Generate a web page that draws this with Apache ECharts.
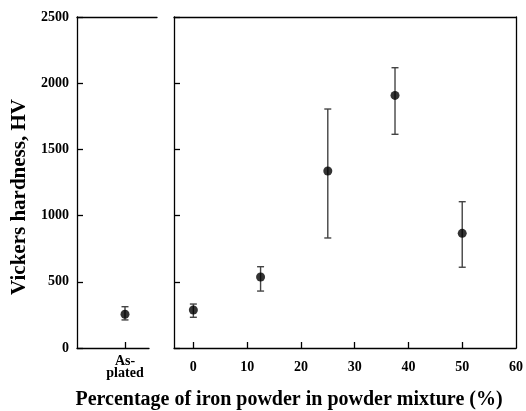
<!DOCTYPE html>
<html>
<head>
<meta charset="utf-8">
<script src="https://cdn.jsdelivr.net/npm/echarts@6/dist/echarts.min.js"></script>
<style>
html,body{margin:0;padding:0;background:#fff;}
#c{width:526px;height:411px;}
</style>
</head>
<body>
<div id="c"></div>
<script>
// Data
var asPlatedLabel = 'As-\nplated';
var asPlatedHV = 255;
var asPlatedLow = 212;
var asPlatedHigh = 312;

var ironPct = [0, 12.5, 25, 37.5, 50];
var hardness = [287, 536, 1337, 1908, 866];
var hardnessLow = [232, 430, 831, 1614, 610];
var hardnessHigh = [332, 614, 1805, 2117, 1105];

var xTicks = [0, 10, 20, 30, 40, 50, 60];
var yTicks = [0, 500, 1000, 1500, 2000, 2500];

var FONT = '"Liberation Serif", "Times New Roman", serif';
var AS_POS = 2; // layout position of the as-plated column

function errRender(params, api) {
  var x = api.value(0);
  var lo = api.coord([x, api.value(1)]);
  var hi = api.coord([x, api.value(2)]);
  var cw = 3.5;
  var st = {stroke: '#444', lineWidth: 1.4};
  return {
    type: 'group',
    children: [
      {type: 'line', shape: {x1: lo[0], y1: lo[1], x2: hi[0], y2: hi[1]}, style: st},
      {type: 'line', shape: {x1: lo[0]-cw, y1: lo[1], x2: lo[0]+cw, y2: lo[1]}, style: st},
      {type: 'line', shape: {x1: hi[0]-cw, y1: hi[1], x2: hi[0]+cw, y2: hi[1]}, style: st}
    ]
  };
}

var axisLine = {show: true, onZero: false, lineStyle: {color: '#000', width: 1.3}};
var labelStyle = {color: '#000', fontFamily: FONT, fontWeight: 'bold', fontSize: 14};

var chart = echarts.init(document.getElementById('c'), null, {renderer: 'canvas'});
chart.setOption({
  animation: false,
  backgroundColor: '#fff',
  grid: [
    {left: 77, top: 17, width: 72, height: 331},
    {left: 174, top: 17, right: 6, height: 331},
    {left: 77, top: 17, width: 80, height: 331}
  ],
  xAxis: [
    {
      gridIndex: 0, type: 'value', min: 0, max: 3, position: 'bottom',
      axisLine: axisLine,
      axisTick: {show: true, inside: true, length: 6, customValues: [AS_POS], lineStyle: {color: '#000', width: 1.3}},
      axisLabel: Object.assign({show: true, margin: 7, lineHeight: 12, customValues: [AS_POS], formatter: function(){ return asPlatedLabel; }}, labelStyle),
      splitLine: {show: false}
    },
    {
      gridIndex: 1, type: 'value', min: -3.6, max: 60, position: 'bottom',
      axisLine: axisLine,
      axisTick: {show: true, inside: true, length: 6, customValues: xTicks.slice(0, 6), lineStyle: {color: '#000', width: 1.3}},
      axisLabel: Object.assign({show: true, margin: 12, customValues: xTicks}, labelStyle),
      splitLine: {show: false}
    },
    {
      gridIndex: 1, type: 'value', min: -3.6, max: 60, position: 'top',
      axisLine: axisLine, axisTick: {show: false}, axisLabel: {show: false}, splitLine: {show: false}
    },
    {
      gridIndex: 2, type: 'value', min: 0, max: 1, position: 'top',
      axisLine: axisLine, axisTick: {show: false}, axisLabel: {show: false}, splitLine: {show: false}
    }
  ],
  yAxis: [
    {
      gridIndex: 0, type: 'value', min: 0, max: 2500, interval: 500, position: 'left',
      axisLine: axisLine,
      axisTick: {show: true, inside: true, length: 6, lineStyle: {color: '#000', width: 1.3}},
      axisLabel: Object.assign({show: true, margin: 8, formatter: function(v){ return String(v); }}, labelStyle),
      splitLine: {show: false}
    },
    {
      gridIndex: 1, type: 'value', min: 0, max: 2500, interval: 500, position: 'left',
      axisLine: axisLine,
      axisTick: {show: true, inside: true, length: 6, lineStyle: {color: '#000', width: 1.3}},
      axisLabel: {show: false}, splitLine: {show: false}
    },
    {
      gridIndex: 1, type: 'value', min: 0, max: 2500, interval: 500, position: 'right',
      axisLine: axisLine, axisTick: {show: false}, axisLabel: {show: false}, splitLine: {show: false}
    },
    {
      gridIndex: 2, type: 'value', min: 0, max: 1, show: false
    }
  ],
  graphic: [
    {
      type: 'text', x: 20, y: 197, rotation: Math.PI / 2,
      style: {text: 'Vickers hardness, HV', fill: '#000', font: 'bold 21px ' + FONT, textAlign: 'center', textVerticalAlign: 'middle'}
    },
    {
      type: 'text', x: 289, y: 400,
      style: {text: 'Percentage of iron powder in powder mixture (%)', fill: '#000', font: 'bold 20px ' + FONT, textAlign: 'center', textVerticalAlign: 'middle'}
    }
  ],
  series: [
    {
      type: 'custom', xAxisIndex: 0, yAxisIndex: 0, renderItem: errRender,
      data: [[AS_POS, asPlatedLow, asPlatedHigh]], z: 2
    },
    {
      type: 'scatter', xAxisIndex: 0, yAxisIndex: 0, symbol: 'circle', symbolSize: 9,
      itemStyle: {color: '#000'}, data: [[AS_POS, asPlatedHV]], z: 3
    },
    {
      type: 'custom', xAxisIndex: 1, yAxisIndex: 1, renderItem: errRender,
      data: ironPct.map(function(x, i){ return [x, hardnessLow[i], hardnessHigh[i]]; }), z: 2
    },
    {
      type: 'scatter', xAxisIndex: 1, yAxisIndex: 1, symbol: 'circle', symbolSize: 9,
      itemStyle: {color: '#000'},
      data: ironPct.map(function(x, i){ return [x, hardness[i]]; }), z: 3
    }
  ]
});
</script>
</body>
</html>
